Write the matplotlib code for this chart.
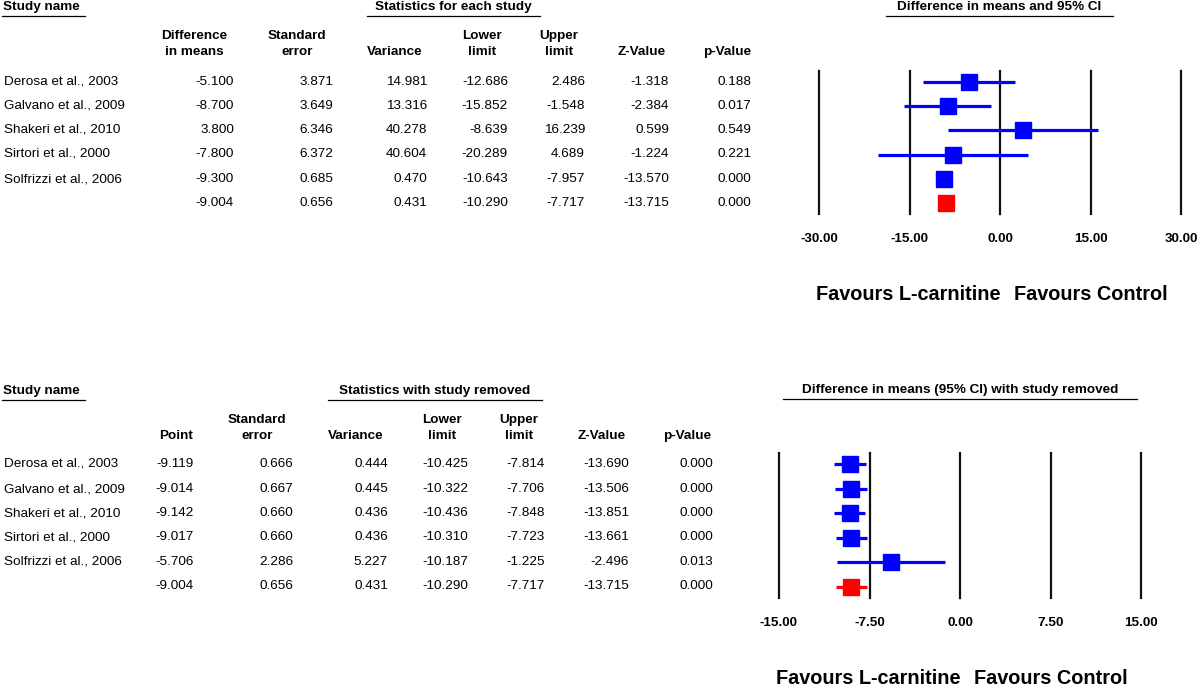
import numpy as np
import matplotlib
matplotlib.use("Agg")
import matplotlib.pyplot as plt

plt.rcParams["font.family"] = ["Liberation Sans", "DejaVu Sans"]

# Data
studies = ["Derosa et al., 2003", "Galvano et al., 2009", "Shakeri et al., 2010",
           "Sirtori et al., 2000", "Solfrizzi et al., 2006", ""]

# Statistics for each study (last row = pooled)
diff   = [-5.100, -8.700, 3.800, -7.800, -9.300, -9.004]
se     = [3.871, 3.649, 6.346, 6.372, 0.685, 0.656]
var    = [14.981, 13.316, 40.278, 40.604, 0.470, 0.431]
lower  = [-12.686, -15.852, -8.639, -20.289, -10.643, -10.290]
upper  = [2.486, -1.548, 16.239, 4.689, -7.957, -7.717]
zval   = [-1.318, -2.384, 0.599, -1.224, -13.570, -13.715]
pval   = [0.188, 0.017, 0.549, 0.221, 0.000, 0.000]

# Statistics with study removed (last row = pooled)
rm_point = [-9.119, -9.014, -9.142, -9.017, -5.706, -9.004]
rm_se    = [0.666, 0.667, 0.660, 0.660, 2.286, 0.656]
rm_var   = [0.444, 0.445, 0.436, 0.436, 5.227, 0.431]
rm_lower = [-10.425, -10.322, -10.436, -10.310, -10.187, -10.290]
rm_upper = [-7.814, -7.706, -7.848, -7.723, -1.225, -7.717]
rm_z     = [-13.690, -13.506, -13.851, -13.661, -2.496, -13.715]
rm_p     = [0.000, 0.000, 0.000, 0.000, 0.013, 0.000]

top_ticks = [-30, -15, 0, 15, 30]
bot_ticks = [-15, -7.5, 0, 7.5, 15]

W, H = 1200, 688
fig = plt.figure(figsize=(12, 6.88), dpi=100)
bg = fig.add_axes([0, 0, 1, 1])
bg.set_xlim(0, W); bg.set_ylim(H, 0); bg.axis("off")

FS = 9.7
BLUE, RED = "#0000ff", "#ff0000"


def draw_table(y0, row_y, title, title_span, cols, data):
    # headers
    bg.text(3, y0, "Study name", fontsize=FS, fontweight="bold", va="center")
    bg.plot([2, 85], [y0 + 9, y0 + 9], color="black", lw=0.9)
    bg.text(np.mean(title_span), y0, title, fontsize=FS, fontweight="bold",
            ha="center", va="center")
    bg.plot(title_span, [y0 + 9, y0 + 9], color="black", lw=0.9)
    for (h1, h2), xc, xr in cols:
        bg.text(xc, y0 + 29, h1, fontsize=FS, fontweight="bold", ha="center", va="center")
        bg.text(xc, y0 + 45, h2, fontsize=FS, fontweight="bold", ha="center", va="center")
    for i, y in enumerate(row_y):
        bg.text(4, y, studies[i], fontsize=FS, va="center")
        for (_, _, xr), vals in zip(cols, data):
            bg.text(xr, y, f"{vals[i]:.3f}", fontsize=FS, ha="right", va="center")


def draw_forest(box, xlim, ticks, title, title_span, ty, est, lo, hi, fav_y, zero_px):
    x0, y_top, x1, y_bot = box
    ax = fig.add_axes([x0 / W, 1 - y_bot / H, (x1 - x0) / W, (y_bot - y_top) / H])
    ax.set_xlim(*xlim)
    ax.set_ylim(5.46, -0.46)
    for t in ticks:
        ax.axvline(t, color="#111111", lw=1.6, clip_on=False)
    n = len(est)
    for i in range(n):
        c = RED if i == n - 1 else BLUE
        ax.plot([lo[i], hi[i]], [i, i], color=c, lw=2.3, solid_capstyle="butt", zorder=3)
        ax.plot(est[i], i, marker="s", ms=12, color=c, mec=c, zorder=4)
    ax.set_xticks(ticks)
    ax.set_xticklabels([f"{t:.2f}" for t in ticks], fontsize=FS, fontweight="bold")
    ax.tick_params(axis="x", length=0, pad=14)
    ax.set_yticks([])
    for s in ax.spines.values():
        s.set_visible(False)
    ax.patch.set_alpha(0)
    bg.text(np.mean(title_span), ty, title, fontsize=FS, fontweight="bold",
            ha="center", va="center")
    bg.plot(title_span, [ty + 9, ty + 9], color="black", lw=0.9)
    bg.text(zero_px + 1, fav_y, "Favours L-carnitine", fontsize=14.3,
            fontweight="bold", ha="right", va="center")
    bg.text(zero_px + 14, fav_y, "Favours Control", fontsize=14.3,
            fontweight="bold", ha="left", va="center")


# Top panel
top_rows = [82, 106, 130, 154, 179, 203]
top_cols = [(("Difference", "in means"), 194, 234),
            (("Standard", "error"), 297, 333),
            (("", "Variance"), 395, 427),
            (("Lower", "limit"), 482, 508),
            (("Upper", "limit"), 559, 585),
            (("", "Z-Value"), 642, 669),
            (("", "p-Value"), 727, 751)]
draw_table(7, top_rows, "Statistics for each study", [367, 540], top_cols,
           [diff, se, var, lower, upper, zval, pval])
draw_forest((819, 71, 1181, 214), (-30, 30), top_ticks,
            "Difference in means and 95% CI", [886, 1113], 7,
            diff, lower, upper, 295, 1000)

# Bottom panel
bot_rows = [464, 489, 513, 537, 562, 586]
bot_cols = [(("", "Point"), 176, 194),
            (("Standard", "error"), 257, 293),
            (("", "Variance"), 356, 388),
            (("Lower", "limit"), 442, 468),
            (("Upper", "limit"), 519, 545),
            (("", "Z-Value"), 602, 629),
            (("", "p-Value"), 687, 713)]
draw_table(391, bot_rows, "Statistics with study removed", [328, 542], bot_cols,
           [rm_point, rm_se, rm_var, rm_lower, rm_upper, rm_z, rm_p])
draw_forest((779, 453, 1141, 598), (-15, 15), bot_ticks,
            "Difference in means (95% CI) with study removed", [783, 1137], 390,
            rm_point, rm_lower, rm_upper, 678, 960)

plt.savefig("out.png", dpi=100)
